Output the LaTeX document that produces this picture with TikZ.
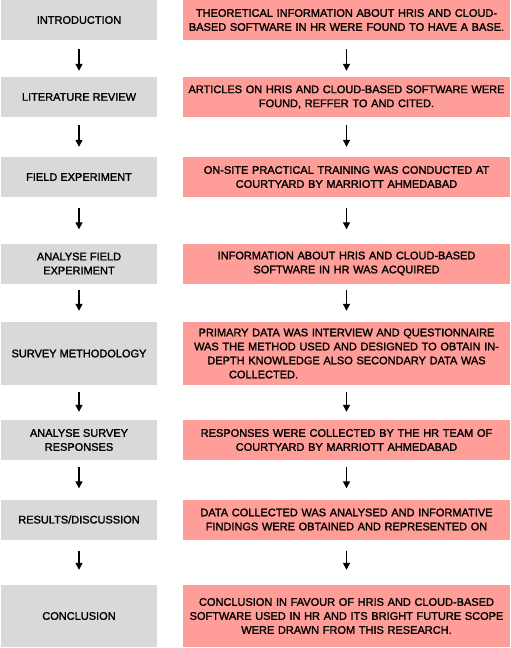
\documentclass[tikz,border=0pt]{standalone}
\usepackage{fontspec}
\setmainfont{Liberation Sans}
\newfontfamily\boxfont{Liberation Sans}[FakeBold=1.6]
\usetikzlibrary{arrows.meta}
\definecolor{boxgray}{HTML}{D9D9D9}
\definecolor{boxpink}{HTML}{FF9E99}
\begin{document}
\begin{tikzpicture}[x=1pt,y=1pt,
  lbox/.style={fill=boxgray, draw=none, minimum width=156pt, inner sep=0pt, align=center,
    font=\boxfont\fontsize{11}{14}\selectfont},
  rbox/.style={fill=boxpink, draw=none, minimum width=327pt, text width=327pt, inner sep=0pt, align=center,
    font=\boxfont\fontsize{11}{14}\selectfont},
  arr/.style={line width=1.3pt, -{Triangle[width=7pt,length=7pt]}}]
\useasboundingbox (0,0) rectangle (511,-648);
\node[lbox, minimum height=40pt] (l1) at (79,-20) {INTRODUCTION};
\node[rbox, minimum height=40pt] (r1) at (346.5,-20) {THEORETICAL INFORMATION ABOUT HRIS AND CLOUD-\\BASED SOFTWARE IN HR WERE FOUND TO HAVE A BASE.};
\node[lbox, minimum height=40pt] (l2) at (79,-97) {LITERATURE REVIEW};
\node[rbox, minimum height=40pt] (r2) at (346.5,-97) {ARTICLES ON HRIS AND CLOUD-BASED SOFTWARE WERE\\FOUND, REFFER TO AND CITED.};
\node[lbox, minimum height=40pt] (l3) at (79,-177) {FIELD EXPERIMENT};
\node[rbox, minimum height=40pt] (r3) at (346.5,-177) {ON-SITE PRACTICAL TRAINING WAS CONDUCTED AT\\COURTYARD BY MARRIOTT AHMEDABAD};
\node[lbox, minimum height=40pt] (l4) at (79,-263.5) {ANALYSE FIELD\\EXPERIMENT};
\node[rbox, minimum height=40pt] (r4) at (346.5,-263.5) {INFORMATION ABOUT HRIS AND CLOUD-BASED\\SOFTWARE IN HR WAS ACQUIRED};
\node[lbox, minimum height=63pt] (l5) at (79,-353.5) {SURVEY METHODOLOGY};
\node[rbox, minimum height=63pt] (r5) at (346.5,-353.5) {PRIMARY DATA WAS INTERVIEW AND QUESTIONNAIRE\\WAS THE METHOD USED AND DESIGNED TO OBTAIN IN-\\DEPTH KNOWLEDGE ALSO SECONDARY DATA WAS\\\hspace*{46pt}COLLECTED.\hskip 0pt plus 1filll\null};
\node[lbox, minimum height=40pt] (l6) at (79,-440) {ANALYSE SURVEY\\RESPONSES};
\node[rbox, minimum height=40pt] (r6) at (346.5,-440) {RESPONSES WERE COLLECTED BY THE HR TEAM OF\\COURTYARD BY MARRIOTT AHMEDABAD};
\node[lbox, minimum height=40pt] (l7) at (79,-519.5) {RESULTS/DISCUSSION};
\node[rbox, minimum height=40pt] (r7) at (346.5,-519.5) {DATA COLLECTED WAS ANALYSED AND INFORMATIVE\\FINDINGS WERE OBTAINED AND REPRESENTED ON};
\node[lbox, minimum height=62pt] (l8) at (79,-616) {CONCLUSION};
\node[rbox, minimum height=62pt] (r8) at (346.5,-616) {CONCLUSION IN FAVOUR OF HRIS AND CLOUD-BASED\\SOFTWARE USED IN HR AND ITS BRIGHT FUTURE SCOPE\\WERE DRAWN FROM THIS RESEARCH.};
\foreach \a/\b/\s/\e in {1/2/9/6, 2/3/8/10, 3/4/11/14, 4/5/6/11, 5/6/7/8, 6/7/7/11, 7/8/11/15}{
  \draw[arr, shorten <=\s pt, shorten >=\e pt] (l\a) -- (l\b);
  \draw[arr, shorten <=\s pt, shorten >=\e pt] (r\a.south) -- (r\b.north);
}
\end{tikzpicture}
\end{document}
